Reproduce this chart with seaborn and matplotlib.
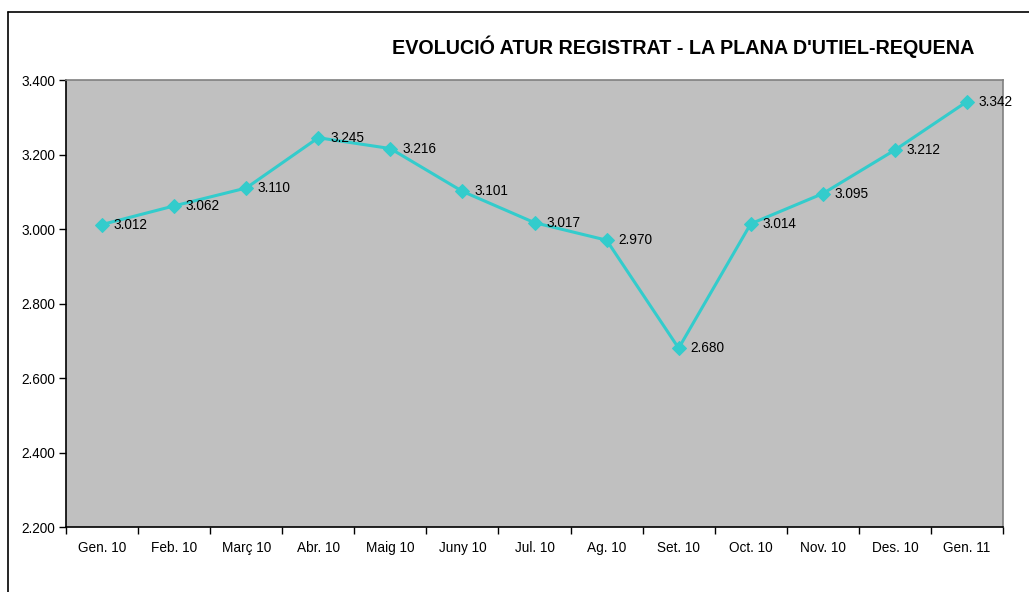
import matplotlib
matplotlib.use("Agg")
import matplotlib.pyplot as plt
import matplotlib.ticker as mticker
from matplotlib.lines import Line2D
import numpy as np
import pandas as pd
import seaborn as sns

# ------------------------------------------------------------
# DATA
# ------------------------------------------------------------

months = ["Gen. 10", "Feb. 10", "Març 10", "Abr. 10", "Maig 10", "Juny 10",
          "Jul. 10", "Ag. 10", "Set. 10", "Oct. 10", "Nov. 10", "Des. 10", "Gen. 11"]
atur = [3012, 3062, 3110, 3245, 3216, 3101, 3017, 2970, 2680, 3014, 3095, 3212, 3342]
y_ticks = [2200, 2400, 2600, 2800, 3000, 3200, 3400]

title = "EVOLUCIÓ ATUR REGISTRAT - LA PLANA D'UTIEL-REQUENA"

df = pd.DataFrame({"pos": np.arange(len(months)), "atur": atur})

def fmt_thousands(v):
    return f"{int(v):,}".replace(",", ".")

# ------------------------------------------------------------
# FIGURE
# ------------------------------------------------------------

sns.set_style("white")
plt.rcParams["font.family"] = ["Liberation Sans", "DejaVu Sans"]
plt.rcParams["text.color"] = "black"
plt.rcParams["xtick.color"] = "black"
plt.rcParams["ytick.color"] = "black"
plt.rcParams["xtick.labelcolor"] = "black"
plt.rcParams["ytick.labelcolor"] = "black"

fig = plt.figure(figsize=(10.29, 5.92), dpi=100)
ax = fig.add_axes([66 / 1029, 1 - 527 / 592, (1003 - 66) / 1029, (527 - 80) / 592])
ax.set_facecolor("#C0C0C0")

sns.lineplot(
    data=df, x="pos", y="atur", ax=ax,
    color="#33CCCC", linewidth=2.2,
    marker="D", markersize=7, markeredgecolor="#33CCCC",
)

for x, v in zip(df["pos"], df["atur"]):
    ax.annotate(fmt_thousands(v), (x, v), xytext=(8.5, 0), textcoords="offset points",
                ha="left", va="center", fontsize=9.8, color="black")

ax.set_xlim(-0.5, len(months) - 0.5)
ax.set_ylim(2200, 3400)

ax.set_xticks(df["pos"])
ax.set_xticklabels(months, fontsize=9.8)
ax.xaxis.set_minor_locator(mticker.FixedLocator(np.arange(-0.5, len(months), 1)))
ax.tick_params(axis="x", which="major", length=0, pad=10)
ax.tick_params(axis="x", which="minor", length=5, width=1, color="black", direction="out", bottom=True)

ax.set_yticks(y_ticks)
ax.set_yticklabels([fmt_thousands(v) for v in y_ticks], fontsize=9.8)
ax.tick_params(axis="y", length=5, width=1, color="black", direction="out", left=True, pad=3)

ax.set_xlabel("")
ax.set_ylabel("")

for side in ["left", "bottom"]:
    ax.spines[side].set_color("black")
    ax.spines[side].set_linewidth(1.2)
for side in ["top", "right"]:
    ax.spines[side].set_color("#808080")
    ax.spines[side].set_linewidth(1.2)

fig.text(683 / 1029, 1 - 47 / 592, title, ha="center", va="center",
         fontsize=14.2, fontweight="bold", color="black")

# outer chart border (top and left only visible)
fig.add_artist(Line2D([8 / 1029, 1.0], [1 - 12 / 592, 1 - 12 / 592],
                      transform=fig.transFigure, color="black", linewidth=1.2))
fig.add_artist(Line2D([8 / 1029, 8 / 1029], [0.0, 1 - 12 / 592],
                      transform=fig.transFigure, color="black", linewidth=1.2))

fig.savefig("out.png", dpi=100)
